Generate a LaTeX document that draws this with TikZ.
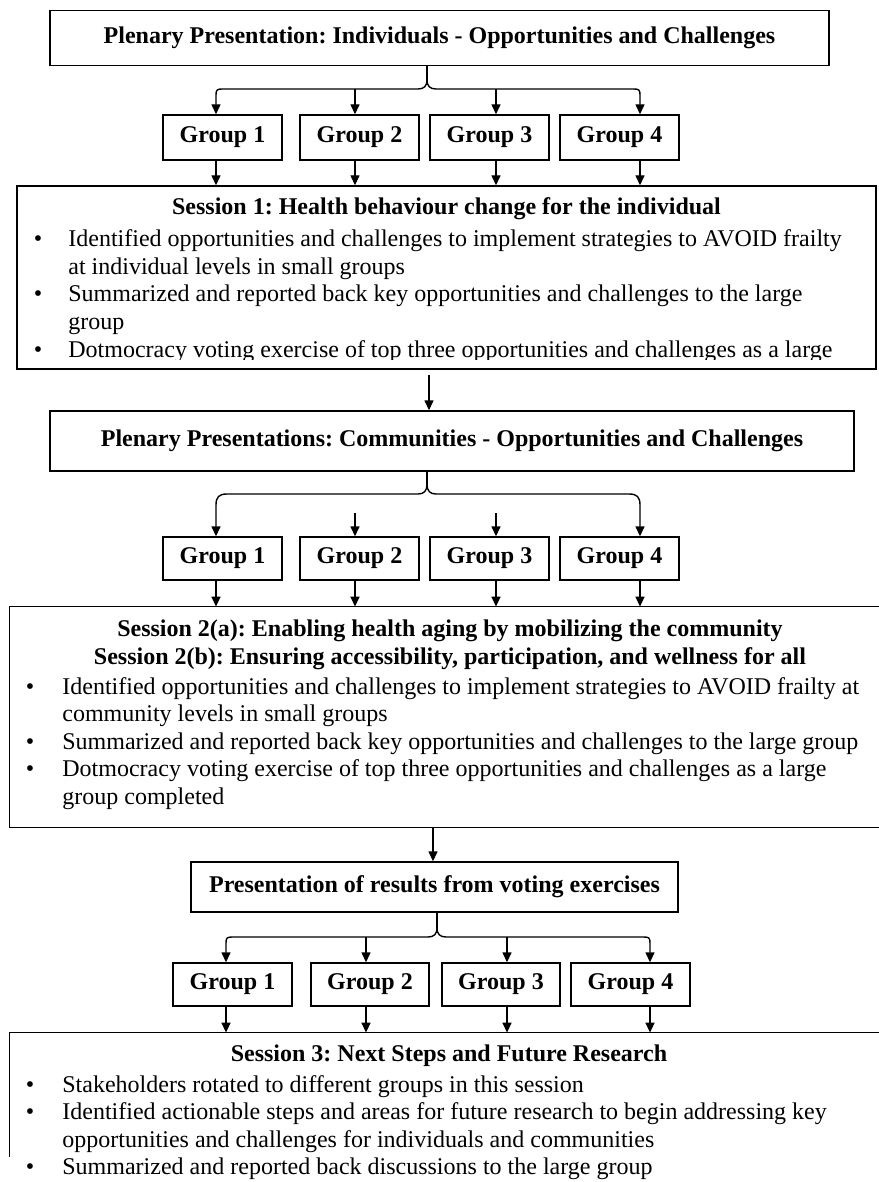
\documentclass[tikz,border=0pt]{standalone}
\usepackage{fontspec}
\setmainfont{Liberation Serif}
\frenchspacing
\usetikzlibrary{arrows.meta,fit}
\tikzset{
  boxst/.style={draw, line width=0.7pt, inner sep=0pt},
  hd/.style={font=\bfseries\fontsize{12}{13.8}\selectfont, inner sep=0pt},
  hdl/.style={font=\bfseries\fontsize{12}{13.8}\selectfont, inner sep=0pt, anchor=base},
  bd/.style={font=\fontsize{12}{13.8}\selectfont, inner sep=0pt, anchor=base west},
  bl/.style={font=\fontsize{12}{13.8}\selectfont, inner sep=0pt, anchor=base},
  ln/.style={line width=0.7pt},
  arr/.style={line width=0.7pt, -{Triangle[length=5pt,width=4.5pt]}}
}
\begin{document}
\begin{tikzpicture}[x=0.5pt,y=-0.5pt]
\useasboundingbox (0,0) rectangle (878,1182);
\fill[white] (0,0) rectangle (878,1182);
% arrow columns
\coordinate (a1) at (216,0); \coordinate (a2) at (355,0);
\coordinate (a3) at (496,0); \coordinate (a4) at (640,0);
\coordinate (b1) at (226,0); \coordinate (b2) at (366,0);
\coordinate (b3) at (507,0); \coordinate (b4) at (650,0);

% ---------- boxes ----------
\node[boxst,fit={(50,10.5) (829,65.6)}] (p1) {};
\node[hd] (p1t) at (p1.center) {Plenary Presentation: Individuals - Opportunities and Challenges};
\node[boxst,fit={(163,115) (282,160)}] (g11) {};
\node[boxst,fit={(300,115) (419,160)}] (g12) {};
\node[boxst,fit={(430,115) (549,160)}] (g13) {};
\node[boxst,fit={(560,115) (679,160)}] (g14) {};
\node[hd] (g11t) at (g11.center) {Group 1};
\node[hd] (g12t) at (g12.center) {Group 2};
\node[hd] (g13t) at (g13.center) {Group 3};
\node[hd] (g14t) at (g14.center) {Group 4};
\node[boxst,fit={(17,186) (876,369)}] (s1) {};

\node[boxst,fit={(50,411) (854,471)}] (p2) {};
\node[hd] (p2t) at (p2.center) {Plenary Presentations: Communities - Opportunities and Challenges};
\node[boxst,fit={(163,537) (282,580)}] (g21) {};
\node[boxst,fit={(300,537) (419,580)}] (g22) {};
\node[boxst,fit={(430,537) (549,580)}] (g23) {};
\node[boxst,fit={(560,537) (679,580)}] (g24) {};
\node[hd] (g21t) at (g21.center) {Group 1};
\node[hd] (g22t) at (g22.center) {Group 2};
\node[hd] (g23t) at (g23.center) {Group 3};
\node[hd] (g24t) at (g24.center) {Group 4};
\node[inner sep=0pt,fit={(10,607) (890,827)}] (s2) {};
\draw[ln] (s2.north east) -- (s2.north west) -- (s2.south west) -- (s2.south east);

\node[boxst,fit={(191,862) (678,912)}] (p3) {};
\node[hd] (p3t) at (p3.center) {Presentation of results from voting exercises};
\node[boxst,fit={(173,963) (292,1006)}] (g31) {};
\node[boxst,fit={(311,963) (429,1006)}] (g32) {};
\node[boxst,fit={(442,963) (560,1006)}] (g33) {};
\node[boxst,fit={(571,963) (690,1006)}] (g34) {};
\node[hd] (g31t) at (g31.center) {Group 1};
\node[hd] (g32t) at (g32.center) {Group 2};
\node[hd] (g33t) at (g33.center) {Group 3};
\node[hd] (g34t) at (g34.center) {Group 4};
\node[inner sep=0pt,fit={(10,1033) (890,1157)}] (s3) {};
\draw[ln] (s3.north east) -- (s3.north west) -- (s3.south west);

% ---------- session 1 text ----------
\begin{scope}
\clip (17,186) rectangle (876,359.5);
\node[hdl] (s1t) at (446.5,214.6) {Session 1: Health behaviour change for the individual};
\node[bl] (s1d1) at (38,246.6) {•};
\node[bd] (s1l1) at (68,246.6) {Identified opportunities and challenges to implement strategies to AVOID frailty};
\node[bd] (s1l2) at (68,274.2) {at individual levels in small groups};
\node[bl] (s1d2) at (38,301.8) {•};
\node[bd] (s1l3) at (68,301.8) {Summarized and reported back key opportunities and challenges to the large};
\node[bd] (s1l4) at (68,329.4) {group};
\node[bl] (s1d3) at (38,357) {•};
\node[bd] (s1l5) at (68,357) {Dotmocracy voting exercise of top three opportunities and challenges as a large};
\end{scope}

% ---------- session 2 text ----------
\node[hdl] (s2t1) at (450,636) {Session 2(a): Enabling health aging by mobilizing the community};
\node[hdl] (s2t2) at (450,664) {Session 2(b): Ensuring accessibility, participation, and wellness for all};
\node[bl] (s2d1) at (30,694) {•};
\node[bd] (s2l1) at (62,694) {Identified opportunities and challenges to implement strategies to AVOID frailty at};
\node[bd] (s2l2) at (62,721.6) {community levels in small groups};
\node[bl] (s2d2) at (30,749.2) {•};
\node[bd] (s2l3) at (62,749.2) {Summarized and reported back key opportunities and challenges to the large group};
\node[bl] (s2d3) at (30,776.8) {•};
\node[bd] (s2l4) at (62,776.8) {Dotmocracy voting exercise of top three opportunities and challenges as a large};
\node[bd] (s2l5) at (62,804.4) {group completed};

% ---------- session 3 text ----------
\node[hdl] (s3t) at (449,1061) {Session 3: Next Steps and Future Research};
\node[bl] (s3d1) at (30,1092) {•};
\node[bd] (s3l1) at (62,1092) {Stakeholders rotated to different groups in this session};
\node[bl] (s3d2) at (30,1119.6) {•};
\node[bd] (s3l2) at (62,1119.6) {Identified actionable steps and areas for future research to begin addressing key};
\node[bd] (s3l3) at (62,1147.2) {opportunities and challenges for individuals and communities};
\node[bl] (s3d3) at (30,1174.8) {•};
\node[bd] (s3l4) at (62,1174.8) {Summarized and reported back discussions to the large group};

% ---------- row 1 connectors ----------
\coordinate (cu1) at (427,80);
\draw[ln] (p1.south -| cu1) -- (cu1);
\draw[arr] (cu1) .. controls (427,86) and (424,89) .. (418,89) -- (222,89) .. controls (217,89) and (216,90) .. (216,95) -- (g11.north -| a1);
\draw[arr] (cu1) .. controls (427,86) and (430,89) .. (436,89) -- (634,89) .. controls (639,89) and (640,90) .. (640,95) -- (g14.north -| a4);
\coordinate (h12) at (355,89); \coordinate (h13) at (496,89);
\draw[arr] (h12) -- (g12.north -| h12);
\draw[arr] (h13) -- (g13.north -| h13);
\draw[arr] (g11.south -| a1) -- (s1.north -| a1);
\draw[arr] (g12.south -| a2) -- (s1.north -| a2);
\draw[arr] (g13.south -| a3) -- (s1.north -| a3);
\draw[arr] (g14.south -| a4) -- (s1.north -| a4);
\coordinate (m1) at (429,375);
\draw[arr] (m1) -- (p2.north -| m1);

% ---------- row 2 connectors ----------
\coordinate (cu2) at (427,484);
\draw[ln] (p2.south -| cu2) -- (cu2);
\draw[arr] (cu2) .. controls (427,491) and (424,494) .. (418,494) -- (227,494) .. controls (219,494) and (216,497) .. (216,505) -- (g21.north -| a1);
\draw[arr] (cu2) .. controls (427,491) and (430,494) .. (436,494) -- (629,494) .. controls (637,494) and (640,497) .. (640,505) -- (g24.north -| a4);
\coordinate (h22) at (355,513); \coordinate (h23) at (496,513);
\draw[arr] (h22) -- (g22.north -| h22);
\draw[arr] (h23) -- (g23.north -| h23);
\draw[arr] (g21.south -| a1) -- (s2.north -| a1);
\draw[arr] (g22.south -| a2) -- (s2.north -| a2);
\draw[arr] (g23.south -| a3) -- (s2.north -| a3);
\draw[arr] (g24.south -| a4) -- (s2.north -| a4);
\coordinate (m2) at (433,0);
\draw[arr] (s2.south -| m2) -- (p3.north -| m2);

% ---------- row 3 connectors ----------
\coordinate (cu3) at (437,928);
\draw[ln] (p3.south -| cu3) -- (cu3);
\draw[arr] (cu3) .. controls (437,934) and (434,937) .. (428,937) -- (232,937) .. controls (227,937) and (226,938) .. (226,943) -- (g31.north -| b1);
\draw[arr] (cu3) .. controls (437,934) and (440,937) .. (446,937) -- (644,937) .. controls (649,937) and (650,938) .. (650,943) -- (g34.north -| b4);
\coordinate (h32) at (366,937); \coordinate (h33) at (507,937);
\draw[arr] (h32) -- (g32.north -| h32);
\draw[arr] (h33) -- (g33.north -| h33);
\draw[arr] (g31.south -| b1) -- (s3.north -| b1);
\draw[arr] (g32.south -| b2) -- (s3.north -| b2);
\draw[arr] (g33.south -| b3) -- (s3.north -| b3);
\draw[arr] (g34.south -| b4) -- (s3.north -| b4);
\end{tikzpicture}
\end{document}
